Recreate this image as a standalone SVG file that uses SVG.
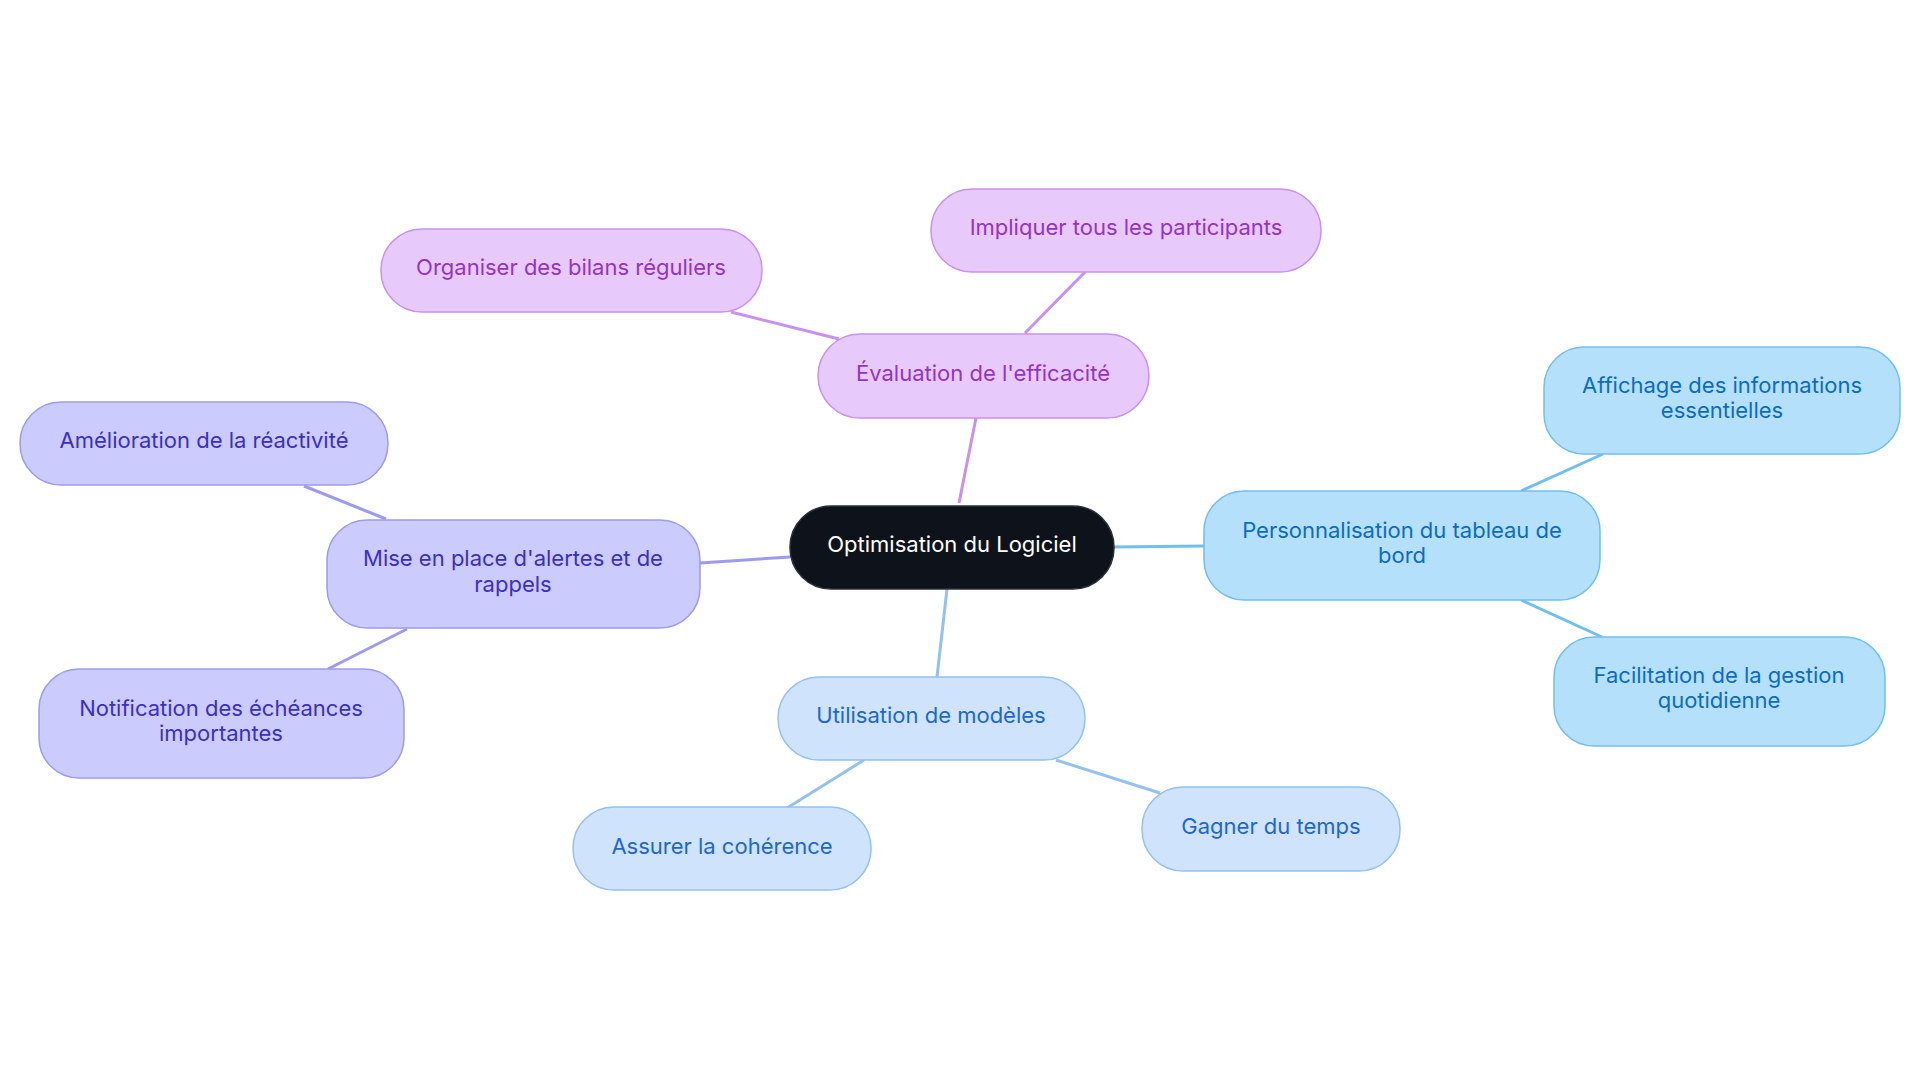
<svg xmlns="http://www.w3.org/2000/svg" width="1920" height="1083" viewBox="0 0 1920 1083">
<style>
text{font-family:Inter,"Noto Sans",sans-serif;font-size:22px;text-anchor:middle;dominant-baseline:middle}
.c rect{fill:#0e121b;stroke:#2a2f3a;stroke-width:1.5}.c text{fill:#fff}
.p rect{fill:#e8c9fc;stroke:#c890f0;stroke-width:1.5}.p text{fill:#9334c4}
.v rect{fill:#cbcbfd;stroke:#9e9af0;stroke-width:1.5}.v text{fill:#3b2fc4}
.b rect{fill:#b5e0fc;stroke:#70bff0;stroke-width:1.5}.b text{fill:#0b6cc2}
.l rect{fill:#cfe3fc;stroke:#93c1f0;stroke-width:1.5}.l text{fill:#1d68cc}
line{stroke-width:3}
</style>
<rect width="1920" height="1083" fill="#fff"/>
<g id="edges">
<line x1="959" y1="503" x2="976" y2="418" stroke="#c890f0"/>
<line x1="839" y1="339" x2="731" y2="312" stroke="#c890f0"/>
<line x1="1025" y1="333" x2="1085" y2="272" stroke="#c890f0"/>
<line x1="790" y1="557" x2="700" y2="563" stroke="#9e9af0"/>
<line x1="386" y1="519" x2="304" y2="486" stroke="#9e9af0"/>
<line x1="407" y1="629" x2="328" y2="669" stroke="#9e9af0"/>
<line x1="1114" y1="547" x2="1204" y2="546" stroke="#70bff0"/>
<line x1="1521" y1="491" x2="1603" y2="454" stroke="#70bff0"/>
<line x1="1521" y1="600" x2="1602" y2="637" stroke="#70bff0"/>
<line x1="947" y1="589" x2="937" y2="677" stroke="#93c1f0"/>
<line x1="864" y1="760" x2="787" y2="808" stroke="#93c1f0"/>
<line x1="1056" y1="760" x2="1160" y2="793" stroke="#93c1f0"/>
</g>
<g id="center" class="c"><rect x="790" y="506" width="324" height="83" rx="41"/><text x="952" y="546">Optimisation du Logiciel</text></g>
<g id="eval" class="p"><rect x="818" y="334" width="331" height="84" rx="42"/><text x="983" y="375">Évaluation de l'efficacité</text></g>
<g id="organiser" class="p"><rect x="381" y="229" width="381" height="83" rx="41"/><text x="571" y="269">Organiser des bilans réguliers</text></g>
<g id="impliquer" class="p"><rect x="931" y="189" width="390" height="83" rx="41"/><text x="1126" y="229">Impliquer tous les participants</text></g>
<g id="mise" class="v"><rect x="327" y="520" width="373" height="108" rx="40"/><text x="513" y="560">Mise en place d'alertes et de</text><text x="513" y="586">rappels</text></g>
<g id="amelioration" class="v"><rect x="20" y="402" width="368" height="83" rx="41"/><text x="204" y="442">Amélioration de la réactivité</text></g>
<g id="notification" class="v"><rect x="39" y="669" width="365" height="109" rx="40"/><text x="221" y="710">Notification des échéances</text><text x="221" y="735">importantes</text></g>
<g id="perso" class="b"><rect x="1204" y="491" width="396" height="109" rx="40"/><text x="1402" y="532">Personnalisation du tableau de</text><text x="1402" y="557">bord</text></g>
<g id="affichage" class="b"><rect x="1544" y="347" width="356" height="107" rx="40"/><text x="1722" y="387">Affichage des informations</text><text x="1722" y="412">essentielles</text></g>
<g id="facilitation" class="b"><rect x="1554" y="637" width="331" height="109" rx="40"/><text x="1719" y="677">Facilitation de la gestion</text><text x="1719" y="702">quotidienne</text></g>
<g id="utilisation" class="l"><rect x="778" y="677" width="307" height="83" rx="41"/><text x="931" y="717">Utilisation de modèles</text></g>
<g id="assurer" class="l"><rect x="573" y="807" width="298" height="83" rx="41"/><text x="722" y="848">Assurer la cohérence</text></g>
<g id="gagner" class="l"><rect x="1142" y="787" width="258" height="84" rx="41"/><text x="1271" y="828">Gagner du temps</text></g>
</svg>
